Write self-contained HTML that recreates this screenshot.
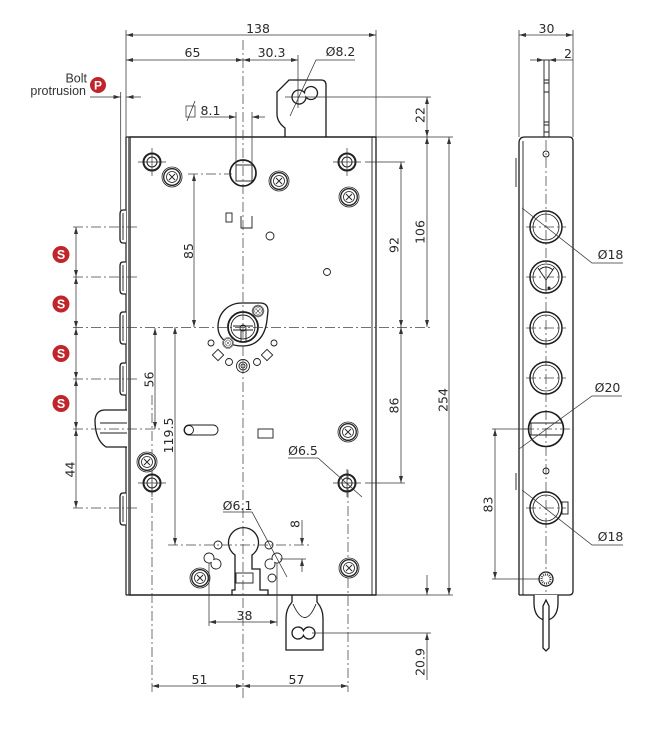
<!DOCTYPE html>
<html><head><meta charset="utf-8"><style>
html,body{margin:0;padding:0;background:#fff;}
svg{display:block;}
.n{font-family:"DejaVu Sans","Liberation Sans",sans-serif;font-size:12.5px;fill:#2a2a2a;}
.l{font-family:"Liberation Sans",sans-serif;font-size:12.5px;fill:#333;}
.o{fill:none;stroke:#1c1c1c;stroke-width:1.3}
.ow{fill:#fff;stroke:#1c1c1c;stroke-width:1.3}
.t{fill:none;stroke:#1c1c1c;stroke-width:0.9}
.d{fill:none;stroke:#333;stroke-width:0.75}
.da{fill:none;stroke:#333;stroke-width:0.75;marker-start:url(#a);marker-end:url(#a)}
.de{fill:none;stroke:#333;stroke-width:0.75;marker-end:url(#a)}
.c{fill:none;stroke:#444;stroke-width:0.75;stroke-dasharray:10 3 2 3}
</style></head><body>
<svg width="645" height="730" viewBox="0 0 645 730" xmlns="http://www.w3.org/2000/svg">
<defs>
<marker id="a" markerUnits="userSpaceOnUse" markerWidth="7" markerHeight="4" refX="7" refY="2" orient="auto-start-reverse" viewBox="0 0 7 4"><path d="M0,0L7,2L0,4z" fill="#333"/></marker>
<g id="scr">
 <circle r="10" fill="#fff" stroke="#222" stroke-width="0.8"/>
 <circle r="8.3" fill="none" stroke="#222" stroke-width="1.3"/>
 <circle r="5.5" fill="none" stroke="#222" stroke-width="0.8"/>
 <path d="M-3,-3L3,3M-3,3L3,-3" stroke="#222" stroke-width="0.9"/>
</g>
<g id="ring">
 <path d="M-14,0H14M0,-14V14" stroke="#333" stroke-width="0.7"/>
 <circle r="8.5" fill="none" stroke="#222" stroke-width="2"/>
 <circle r="5" fill="none" stroke="#222" stroke-width="1"/>
</g>
<g id="bc">
 <path d="M-20,0H20" class="c"/>
 <circle r="16" fill="none" stroke="#1c1c1c" stroke-width="1.5"/>
 <circle r="13" fill="none" stroke="#1c1c1c" stroke-width="0.8"/>
</g>
</defs>

<!-- top strike -->
<path class="ow" d="M285,137 V128 Q277,122 277,114 V92 L289,80 H321 Q326,80 326,85 V137"/>
<path class="o" d="M304.5,92.67 A7,7 0 1 0 306,97.17 A6.5,6.5 0 1 0 304.5,92.67 Z"/>

<!-- bottom strike -->
<path class="ow" d="M292,595 V602 Q286,609 286,618 V650 H323 V618 Q323,609 317,602 V595"/>
<path class="t" d="M293,604 Q305,631 316,604"/>
<path class="o" d="M303.5,630.6 A6,6 0 1 0 303.5,635.4 A6,6 0 1 0 303.5,630.6 Z"/>

<!-- body -->
<rect x="130" y="137" width="246" height="458" class="o"/>
<path class="t" d="M372,137 V595"/>
<path d="M126,137 V595" stroke="#1c1c1c" stroke-width="1.2"/>
<path d="M128.5,137 V595" stroke="#1c1c1c" stroke-width="0.6"/>
<path class="o" d="M126,137 H376 M126,595 H376"/>

<!-- bolts -->
<path class="ow" d="M126,210 H123 Q120,210 120,214 V239 Q120,243 123,243 H126"/>
<path class="ow" d="M126,262 H123 Q120,262 120,266 V290 Q120,294 123,294 H126"/>
<path class="ow" d="M126,312 H123 Q120,312 120,316 V340 Q120,344 123,344 H126"/>
<path class="ow" d="M126,363 H123 Q120,363 120,367 V391 Q120,395 123,395 H126"/>
<path class="ow" d="M126,493 H123 Q120,493 120,497 V521 Q120,525 123,525 H126"/>
<path class="t" d="M123,213V240 M123,265V291 M123,315V341 M123,366V392 M123,496V522" stroke-width="0.5"/>
<!-- hook latch -->
<path class="ow" d="M127,410 H105 Q96,410 95,420 Q95,440 106,447 H127"/>
<path class="t" d="M100,423 H127 M100,433 H127"/>

<!-- spindle -->
<circle cx="243" cy="173" r="13" fill="#fff" stroke="#1c1c1c" stroke-width="1.7"/>
<rect x="236" y="165" width="16" height="16" class="t"/>

<!-- small features -->
<rect x="226" y="213" width="6" height="9" class="t"/>
<path class="t" d="M241,216 V228 H252 V216"/>
<circle cx="270" cy="236" r="4" class="t"/>
<circle cx="327" cy="272" r="3.5" class="t"/>
<rect x="184" y="425" width="34" height="10" rx="5" class="t"/>
<circle cx="189" cy="430" r="4.5" class="t"/>
<rect x="258" y="429" width="15" height="9" class="t"/>

<!-- follower -->
<path class="ow" d="M218,327 C218,313 228,303 242,303 L260,303 Q268,303 268,311 L267,320 C265,338 255,346 243,346 C230,346 218,340 218,327 Z"/>
<circle cx="243" cy="327" r="15" fill="#fff" stroke="#1c1c1c" stroke-width="1.8"/>
<circle cx="243" cy="327" r="12" class="t"/>
<path class="t" d="M233,326 H253 M233,330 H253 M241,330 V342 H246 V330"/>
<circle cx="243" cy="328" r="3" class="t"/>
<g transform="translate(258,311) scale(0.6)"><use href="#scr"/></g>
<g transform="translate(228,343) scale(0.55)"><use href="#scr"/></g>
<circle cx="211" cy="343" r="3" class="t"/>
<circle cx="274" cy="343" r="3" class="t"/>
<rect x="214" y="351" width="8" height="8" class="t" transform="rotate(45 218 355)"/>
<rect x="263" y="351" width="8" height="8" class="t" transform="rotate(45 267 355)"/>
<circle cx="229" cy="362" r="3.5" class="t"/>
<circle cx="257" cy="362" r="3.5" class="t"/>
<circle cx="243" cy="366" r="6.5" class="t"/>
<circle cx="243" cy="366" r="4" class="t"/>
<circle cx="243" cy="366" r="2" class="t"/>

<!-- cylinder cutout -->
<path class="o" d="M232,595 V590 H235 V555 A15,15 0 1 1 252,555 V569 H260 V590 H268 V595"/>
<rect x="236" y="573" width="17" height="10" class="t"/>
<circle cx="218" cy="545" r="4" class="t"/>
<circle cx="269" cy="545" r="4" class="t"/>
<circle cx="272" cy="578" r="4" class="t"/>
<path class="t" d="M213.76,559.53 A5,5 0 1 0 211.24,562.47 A5,5 0 1 0 213.76,559.53 Z"/>
<path class="t" d="M272.24,559.53 A5,5 0 1 1 274.76,562.47 A5,5 0 1 1 272.24,559.53 Z"/>

<!-- center lines -->
<path class="c" d="M243,40 V700"/>
<path class="c" d="M73,327.5 H432"/>
<path class="c" d="M73,227 H137 M73,277 H137 M73,379 H137 M73,508 H137"/>
<path class="c" d="M73,429 H160"/>
<path class="c" d="M168,545 H312"/>
<path class="c" d="M188,174 H232"/>
<path class="c" d="M152,395 V692 M348,470 V692"/>

<!-- rings & screws -->
<use href="#ring" x="152" y="162"/>
<use href="#ring" x="347" y="162"/>
<use href="#ring" x="152" y="483"/>
<use href="#ring" x="347" y="483"/>
<use href="#scr" x="172" y="177"/>
<use href="#scr" x="279" y="181"/>
<use href="#scr" x="349" y="197"/>
<use href="#scr" x="147" y="462"/>
<use href="#scr" x="348" y="432"/>
<use href="#scr" x="200" y="578"/>
<use href="#scr" x="349" y="568"/>

<!-- dimensions main -->
<path class="d" d="M126,30 V137 M376,30 V137 M298,55 V108"/>
<path class="da" d="M126,35 H376"/>
<path class="da" d="M126,60 H243"/>
<path class="da" d="M243,60 H298"/>
<path class="d" d="M355,60 H316 L290,116"/>
<path class="de" d="M200,117 H236"/>
<path class="de" d="M265,117 H252"/>
<path class="d" d="M236,112 V165 M252,112 V165"/>
<rect x="186" y="106" width="9" height="11" class="d"/>
<path class="d" d="M187,121 L195,101"/>
<path class="de" d="M90,97 H120.5"/>
<path class="de" d="M141,97 H126.5"/>
<path class="d" d="M120.7,92 V210"/>
<path class="d" d="M285,97 H431 M376,137 H453 M365,162 H405 M365,483 H405 M376,595 H453 M312,633 H431"/>
<path class="da" d="M427,97 V137"/>
<path class="da" d="M427,137 V327"/>
<path class="da" d="M401,162 V327"/>
<path class="da" d="M401,327 V483"/>
<path class="da" d="M449,137 V595"/>
<path class="de" d="M427,575 V595"/>
<path class="de" d="M427,680 V633"/>
<path class="da" d="M194,174 V327"/>
<path class="da" d="M155,328 V429"/>
<path class="da" d="M175,327 V545"/>
<path class="da" d="M76,227 V277"/>
<path class="da" d="M76,277 V328"/>
<path class="da" d="M76,328 V379"/>
<path class="da" d="M76,379 V429"/>
<path class="da" d="M76,429 V508"/>
<path class="d" d="M209,563 V626 M277,563 V626"/>
<path class="da" d="M209,622 H277"/>
<path class="da" d="M152,686 H243"/>
<path class="da" d="M243,686 H348"/>
<path class="d" d="M288,458 H318 L362,497"/>
<path class="d" d="M223,512 H252 L287,577"/>
<path class="de" d="M302,520 V545"/>
<path class="de" d="M302,572 V559"/>
<path class="d" d="M280,559 H306"/>

<!-- texts main -->
<text class="n" x="258" y="33" text-anchor="middle">138</text>
<text class="n" x="192.5" y="57" text-anchor="middle">65</text>
<text class="n" x="271.5" y="57" text-anchor="middle">30.3</text>
<text class="n" x="340.5" y="56" text-anchor="middle">Ø8.2</text>
<text class="n" x="210.5" y="115" text-anchor="middle">8.1</text>
<text class="l" x="87" y="82.5" text-anchor="end">Bolt</text>
<text class="l" x="86" y="95" text-anchor="end">protrusion</text>
<circle cx="98" cy="85" r="8" fill="#c0252b"/>
<text x="98" y="89.5" text-anchor="middle" style="font-family:'Liberation Sans',sans-serif;font-weight:bold;font-size:12px;fill:#fff">P</text>
<g style="font-family:'Liberation Sans',sans-serif;font-weight:bold;font-size:12.5px;fill:#fff" text-anchor="middle">
<circle cx="61" cy="254.5" r="8.5" fill="#c0252b"/><text x="61" y="259">S</text>
<circle cx="61" cy="304" r="8.5" fill="#c0252b"/><text x="61" y="308.5">S</text>
<circle cx="61" cy="353.5" r="8.5" fill="#c0252b"/><text x="61" y="358">S</text>
<circle cx="61" cy="403.5" r="8.5" fill="#c0252b"/><text x="61" y="408">S</text>
</g>
<text class="n" text-anchor="middle" transform="translate(193,251) rotate(-90)">85</text>
<text class="n" text-anchor="middle" transform="translate(153.5,379.5) rotate(-90)">56</text>
<text class="n" text-anchor="middle" transform="translate(173,435.5) rotate(-90)">119.5</text>
<text class="n" text-anchor="middle" transform="translate(74.5,469.5) rotate(-90)">44</text>
<text class="n" text-anchor="middle" transform="translate(424.5,115) rotate(-90)">22</text>
<text class="n" text-anchor="middle" transform="translate(424.5,232) rotate(-90)">106</text>
<text class="n" text-anchor="middle" transform="translate(398.5,245) rotate(-90)">92</text>
<text class="n" text-anchor="middle" transform="translate(398.5,405.5) rotate(-90)">86</text>
<text class="n" text-anchor="middle" transform="translate(447.5,400) rotate(-90)">254</text>
<text class="n" text-anchor="middle" transform="translate(424.5,662) rotate(-90)">20.9</text>
<text class="n" text-anchor="middle" transform="translate(299.5,524) rotate(-90)">8</text>
<text class="n" x="303" y="455" text-anchor="middle">Ø6.5</text>
<text class="n" x="237.5" y="510" text-anchor="middle">Ø6.1</text>
<text class="n" x="244.5" y="620" text-anchor="middle">38</text>
<text class="n" x="199.5" y="684" text-anchor="middle">51</text>
<text class="n" x="296.5" y="684" text-anchor="middle">57</text>

<!-- side view -->
<rect x="544" y="60" width="5" height="77" class="t" fill="#fff"/>
<path class="t" d="M544,80H549 M544,83H549 M544,92H549 M544,122H549 M544,125H549 M544,132H549" stroke-width="0.6"/>
<path class="ow" d="M519,595 V143 Q519,137 525,137 H569 Q573,137 573,141 V591 Q573,595 569,595 H519"/>
<path class="t" d="M523,141 V595"/>
<path class="t" d="M516,158 V187 M516,473 V490" stroke-width="1.2"/>
<path class="ow" d="M534,595 V603 C534,615 540,620 546,620 C552,620 558,615 558,603 V595"/>
<path class="ow" d="M546,600 L549,606 V648 L546,651 L543,648 V606 Z"/>
<path class="c" d="M546,140 V592"/>
<circle cx="546" cy="154" r="3" class="t" fill="#fff"/>
<use href="#bc" x="546" y="227"/>
<use href="#bc" x="546" y="277"/>
<path class="t" d="M538,268 L546,280 L554,268 M546,280 V290 M539,270 Q546,264 553,270" stroke-width="1.1"/>
<circle cx="549" cy="288" r="1.5" fill="#222"/>
<use href="#bc" x="546" y="328"/>
<use href="#bc" x="546" y="378"/>
<path class="c" d="M524,429 H570"/>
<circle cx="546" cy="429" r="17.5" fill="none" stroke="#1c1c1c" stroke-width="1.6"/>
<path class="t" d="M530,423 H563 M530,435 H563 M531,423 V435"/>
<circle cx="546" cy="471" r="3" class="t" fill="#fff"/>
<use href="#bc" x="546" y="508"/>
<rect x="562" y="502" width="6" height="12" class="t" fill="#fff"/>
<circle cx="546" cy="579" r="7" fill="#fff" stroke="#1c1c1c" stroke-width="1.3"/>
<circle cx="546" cy="579" r="4.5" fill="none" stroke="#444" stroke-width="2.2" stroke-dasharray="1 1"/>

<path class="d" d="M519,30 V137 M573,30 V137"/>
<path class="da" d="M519,35 H573"/>
<path class="de" d="M530,60 H544"/>
<path class="de" d="M573,60 H549"/>
<path class="d" d="M623,263 H592 L522,208"/>
<path class="d" d="M622,396 H592 L519,449"/>
<path class="d" d="M623,545 H592 L522,490"/>
<path class="d" d="M492,429 H530 M492,579 H540"/>
<path class="da" d="M495,429 V579"/>
<text class="n" x="546.5" y="33" text-anchor="middle">30</text>
<text class="n" x="568" y="58" text-anchor="middle">2</text>
<text class="n" x="610.5" y="259" text-anchor="middle">Ø18</text>
<text class="n" x="607.5" y="392" text-anchor="middle">Ø20</text>
<text class="n" x="610.5" y="541" text-anchor="middle">Ø18</text>
<text class="n" text-anchor="middle" transform="translate(492.5,504.5) rotate(-90)">83</text>
</svg>
</body></html>
